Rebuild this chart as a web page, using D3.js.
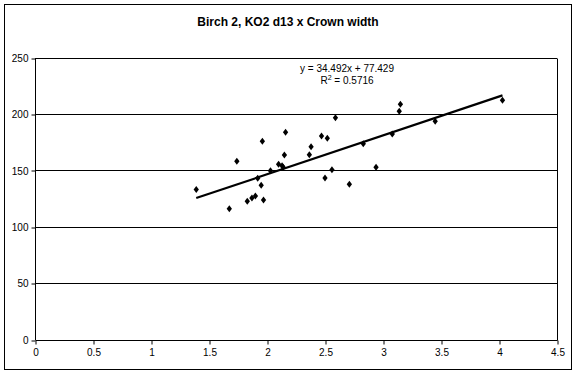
<!DOCTYPE html>
<html>
<head>
<meta charset="utf-8">
<script src="https://cdn.jsdelivr.net/npm/d3@7"></script>
<style>
  html, body { margin: 0; padding: 0; background: #fff; }
  svg { display: block; }
  text { font-family: "Liberation Sans", Arial, sans-serif; }
</style>
</head>
<body>
<svg id="chart" width="577" height="374"></svg>
<script>
// ---- data ----
const title = "Birch 2, KO2  d13 x Crown width";
const xValues = [1.39, 1.675, 1.74, 1.83, 1.87, 1.90, 1.95, 1.92, 1.96, 1.97, 2.03, 2.10, 2.13, 2.14, 2.15, 2.16,
                 2.365, 2.38, 2.47, 2.50, 2.52, 2.56, 2.59, 2.71, 2.83, 2.94, 3.08, 3.14, 3.15, 3.45, 4.03];
const yValues = [133, 116, 158, 122.5, 125.4, 127.2, 136.7, 142.9, 175.7, 123.7, 149.6, 155.3, 154.1, 152.7, 163.6, 183.7,
                 163.8, 170.9, 180.4, 143.2, 178.4, 150.5, 196.6, 137.6, 173.6, 152.7, 182.2, 202.3, 208.5, 193.4, 212];
const slope = 34.492;
const intercept = 77.429;
const equationLabel = "y = 34.492x + 77.429";
const r2Label = "0.5716";
const xTicks = [0, 0.5, 1, 1.5, 2, 2.5, 3, 3.5, 4, 4.5];
const yTicks = [0, 50, 100, 150, 200, 250];

// ---- layout ----
const svg = d3.select("#chart");
const pLeft = 35, pRight = 557, pTop = 57.5, pBottom = 339.5;

const x = d3.scaleLinear().domain([0, 4.5]).range([pLeft, pRight]);
const y = d3.scaleLinear().domain([0, 250]).range([pBottom, pTop]);

// outer border
svg.append("rect").attr("x", 4.5).attr("y", 4.5).attr("width", 567).attr("height", 365)
  .attr("fill", "#fff").attr("stroke", "#000").attr("stroke-width", 1);

// title
svg.append("text").attr("x", 288).attr("y", 26).attr("text-anchor", "middle")
  .attr("font-size", 12).attr("font-weight", "bold").text(title);

// gridlines
svg.append("g").selectAll("line").data(yTicks.filter(d => d > 0)).join("line")
  .attr("x1", pLeft).attr("x2", pRight)
  .attr("y1", d => Math.round(y(d)) + 0.5).attr("y2", d => Math.round(y(d)) + 0.5)
  .attr("stroke", "#000").attr("stroke-width", 1);

// right border of plot area
svg.append("line").attr("x1", pRight + 0.5).attr("x2", pRight + 0.5)
  .attr("y1", Math.round(pTop) + 0.5).attr("y2", Math.round(pBottom) + 0.5)
  .attr("stroke", "#000");

// axes
const xAxis = d3.axisBottom(x).tickValues(xTicks).tickSize(4).tickPadding(4)
  .tickFormat(d3.format("~g"));
const gx = svg.append("g").attr("transform", `translate(0.5,${Math.round(pBottom) + 0.5})`).call(xAxis);
gx.select(".domain").attr("d", `M${pLeft},0H${pRight}`);
gx.selectAll("text").attr("font-size", 10).attr("font-family", "'Liberation Sans', Arial, sans-serif");

const yAxis = d3.axisLeft(y).tickValues(yTicks).tickSize(4).tickPadding(3);
const gy = svg.append("g").attr("transform", `translate(${pLeft + 0.5},0.5)`).call(yAxis);
gy.selectAll(".tick line").attr("transform", d => `translate(0,${Math.round(y(d)) - y(d)})`);
gy.selectAll(".tick text").attr("font-size", 10).attr("font-family", "'Liberation Sans', Arial, sans-serif");
gy.select(".domain").attr("d", `M0,${pTop}V${pBottom}`);

// trendline
const xMin = d3.min(xValues), xMax = d3.max(xValues);
svg.append("line")
  .attr("x1", x(xMin)).attr("y1", y(slope * xMin + intercept))
  .attr("x2", x(xMax)).attr("y2", y(slope * xMax + intercept))
  .attr("stroke", "#000").attr("stroke-width", 2.2);

// points
const pts = xValues.map((v, i) => ({ x: v, y: yValues[i] }));
svg.append("g").selectAll("path").data(pts).join("path")
  .attr("d", d3.symbol().type(d3.symbolDiamond).size(22))
  .attr("transform", d => `translate(${x(d.x)},${y(d.y)}) scale(1.05,0.8)`)
  .attr("fill", "#000");

// equation labels
svg.append("text").attr("x", 347).attr("y", 72).attr("text-anchor", "middle")
  .attr("font-size", 10).text(equationLabel);
const r2 = svg.append("text").attr("x", 347).attr("y", 84).attr("text-anchor", "middle").attr("font-size", 10);
r2.append("tspan").text("R");
r2.append("tspan").attr("font-size", 7).attr("dy", -4).text("2");
r2.append("tspan").attr("dy", 4).text(" = " + r2Label);
</script>
</body>
</html>
